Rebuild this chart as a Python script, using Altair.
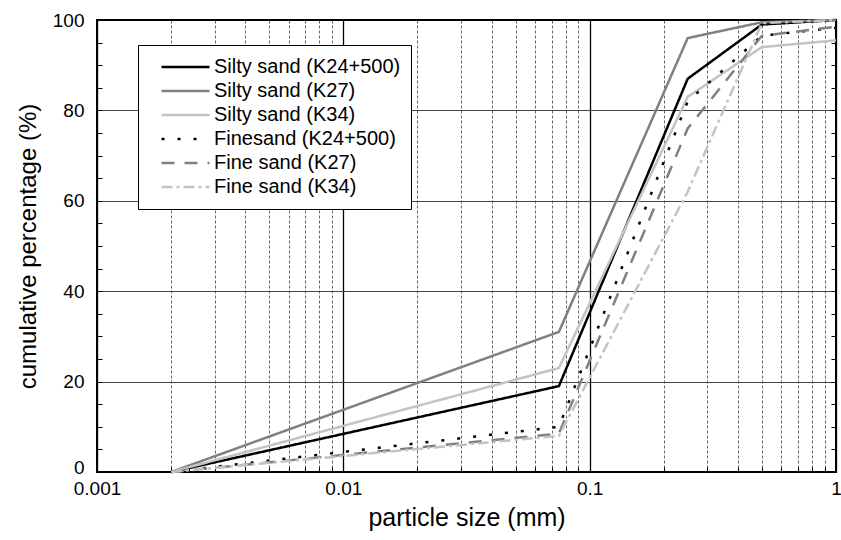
import altair as alt
import pandas as pd

# ---- data ----
sizes = [0.002, 0.075, 0.25, 0.5, 1.0]
series_names = ["Silty sand (K24+500)", "Silty sand (K27)", "Silty sand (K34)",
                "Finesand (K24+500)", "Fine sand (K27)", "Fine sand (K34)"]
silty_k24 = [0, 19, 87, 99, 100]
silty_k27 = [0, 31, 96, 99.5, 100]
silty_k34 = [0, 23, 83, 94, 95.5]
fine_k24 = [0, 10, 82, 96.5, 98.3]
fine_k27 = [0, 8.5, 76, 96.5, 98.5]
fine_k34 = [0, 8, 62, 99.3, 100]

x_ticks = [0.001, 0.002, 0.003, 0.004, 0.005, 0.006, 0.007, 0.008, 0.009,
           0.01, 0.02, 0.03, 0.04, 0.05, 0.06, 0.07, 0.08, 0.09,
           0.1, 0.2, 0.3, 0.4, 0.5, 0.6, 0.7, 0.8, 0.9, 1.0]
y_ticks = [0, 5, 10, 15, 20, 25, 30, 35, 40, 45, 50, 55, 60, 65, 70, 75, 80, 85, 90, 95, 100]

colors = ["#000000", "#808080", "#c3c3c3", "#000000", "#808080", "#c3c3c3"]
dashes = [[1, 0], [1, 0], [1, 0], [3, 13], [13, 10], [11, 4, 3, 4]]

all_series = [silty_k24, silty_k27, silty_k34, fine_k24, fine_k27, fine_k34]
rows = []
for name, vals in zip(series_names, all_series):
    for s, v in zip(sizes, vals):
        rows.append({"series": name, "size": s, "pct": v})
df = pd.DataFrame(rows)

FONT = "Liberation Sans"
decade = "abs(log(datum.value)/LN10 - round(log(datum.value)/LN10)) < 0.001"

x_enc = alt.X(
    "size:Q",
    scale=alt.Scale(type="log", domain=[0.001, 1], nice=False),
    axis=alt.Axis(
        values=x_ticks, offset=-5, tickSize=5, tickColor="black", tickWidth=1,
        domain=False, labelExpr=f"{decade} ? format(datum.value, '~g') : ''",
        labelFont=FONT, labelFontSize=19, labelColor="black", labelPadding=7,
        labelFlush=False, labelOverlap=False,
        grid=True,
        gridColor={"condition": {"test": decade, "value": "#000000"}, "value": "#555555"},
        gridDash={"condition": {"test": decade, "value": [1, 0]}, "value": [3, 2]},
        gridWidth={"condition": {"test": decade, "value": 1.3}, "value": 0.9},
        title="particle size (mm)", titleFont=FONT, titleFontSize=25,
        titleFontWeight="normal", titleColor="black", titlePadding=7,
    ),
)

y_scale = alt.Scale(domain=[0, 100], nice=False)

legend = alt.Legend(
    orient="none", legendX=41, legendY=25, title=None,
    fillColor="white", strokeColor="black", padding=10,
    symbolType="stroke", symbolSize=2304, symbolStrokeWidth=2.5,
    symbolOffset=12, labelOffset=3, labelFont=FONT, labelFontSize=20,
    labelColor="black", clipHeight=24, rowPadding=0, labelLimit=400,
)

lines = alt.Chart(df).mark_line(strokeWidth=2.5).encode(
    x=x_enc,
    y=alt.Y(
        "pct:Q", scale=y_scale,
        axis=alt.Axis(
            values=y_ticks, offset=-5, tickSize=5, tickColor="black", tickWidth=1,
            domain=False, labelExpr="datum.value % 20 == 0 ? datum.label : ''",
            labelFont=FONT, labelFontSize=19, labelColor="black", labelPadding=13,
            labelOverlap=False,
            labelOffset={"condition": {"test": "datum.value == 0", "value": -5}, "value": 0},
            grid=True, gridColor="#444444", gridWidth=1.2,
            gridOpacity={"condition": {"test": "datum.value % 20 == 0 && datum.value > 0 && datum.value < 100", "value": 1}, "value": 0},
            title="cumulative percentage (%)", titleFont=FONT, titleFontSize=24,
            titleFontWeight="normal", titleColor="black", titlePadding=12,
        ),
    ),
    color=alt.Color("series:N", scale=alt.Scale(domain=series_names, range=colors), legend=legend),
    strokeDash=alt.StrokeDash("series:N", scale=alt.Scale(domain=series_names, range=dashes), legend=legend),
    order=alt.Order("size:Q"),
)

right_ticks = alt.Chart(df).mark_point(opacity=0).encode(
    x=x_enc,
    y=alt.Y(
        "pct:Q", scale=y_scale,
        axis=alt.Axis(
            orient="right", values=y_ticks, offset=-5, tickSize=5, tickColor="black",
            tickWidth=1, domain=False, labels=False, grid=False, title=None,
        ),
    ),
)

chart = alt.layer(lines, right_ticks).resolve_axis(y="independent").properties(
    width=739, height=452,
    autosize=alt.AutoSizeParams(type="none"),
    padding={"left": 97, "top": 20, "right": 5, "bottom": 68},
).configure_view(stroke="black", strokeWidth=2)

chart.save("out.html", embed_options={"renderer": "svg", "actions": False})
